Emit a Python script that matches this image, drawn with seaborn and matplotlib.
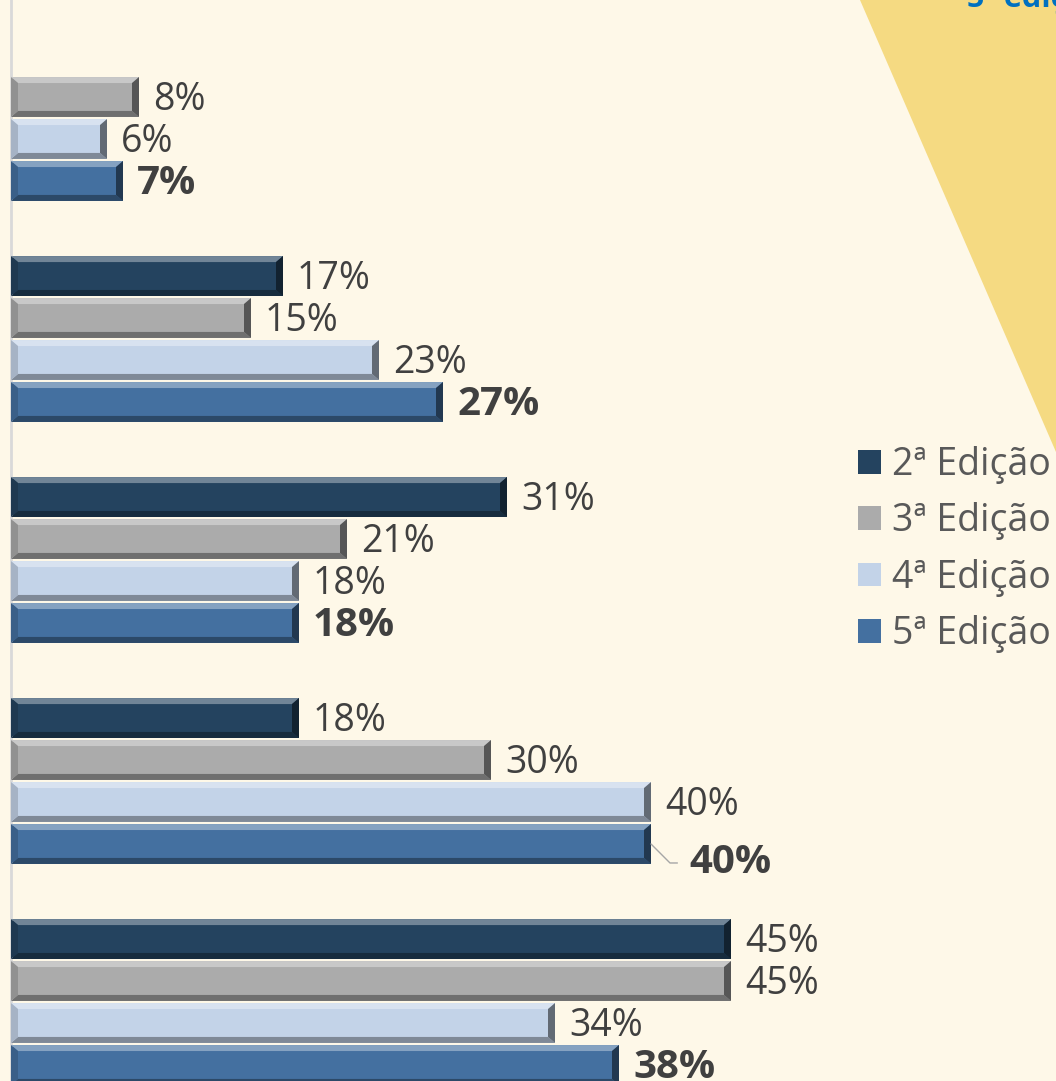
import numpy as np
import pandas as pd
import matplotlib
matplotlib.use("Agg")
import matplotlib.pyplot as plt
from matplotlib.patches import Polygon
from matplotlib.colors import to_rgb
import seaborn as sns

# ---------------- data ----------------
categories = ["Grupo 1", "Grupo 2", "Grupo 3", "Grupo 4", "Grupo 5"]
editions = ["2ª Edição", "3ª Edição", "4ª Edição", "5ª Edição"]
ed2 = [np.nan, 17, 31, 18, 45]
ed3 = [8, 15, 21, 30, 45]
ed4 = [6, 23, 18, 40, 34]
ed5 = [7, 27, 18, 40, 38]
colors = ["#24435F", "#ABABAB", "#C3D3E8", "#4470A0"]

rows = []
for ed, vals in zip(editions, [ed2, ed3, ed4, ed5]):
    for c, v in zip(categories, vals):
        rows.append({"categoria": c, "edicao": ed, "valor": v})
df = pd.DataFrame(rows).dropna()

# ---------------- style ----------------
sns.set_style("white")
plt.rcParams["font.family"] = ["Open Sans", "DejaVu Sans"]

W, H = 1056, 1081
BG = "#FEF8E8"
fig = plt.figure(figsize=(W / 100, H / 100), dpi=100, facecolor=BG)

# yellow decorative wedge at top right
fig.patches.append(Polygon([(860 / W, 1), (1, 1), (1, 1 - 452 / H)], closed=True,
                           transform=fig.transFigure, facecolor="#F5DA82",
                           edgecolor="none", zorder=0))
fig.text(967 / W, 1 - 7 / H, "5ª edição", color="#0070C0", fontweight="bold",
         fontsize=22, ha="left", va="baseline")

ax = fig.add_axes([11 / W, 0, 1 - 11 / W, 1])
ax.set_facecolor("none")

sns.barplot(data=df, x="valor", y="categoria", hue="edicao", order=categories,
            hue_order=editions, palette=colors, orient="h", width=0.76, gap=0.05,
            saturation=1, edgecolor="none", linewidth=0, ax=ax, legend=True)

ax.set_xlim(0, (W - 11) / 16)
ax.set_ylim((H - 118) / 221, -118 / 221)
ax.set_xlabel("")
ax.set_ylabel("")
ax.set_xticks([])
ax.set_yticks([])
for s in ["top", "right", "bottom"]:
    ax.spines[s].set_visible(False)
ax.spines["left"].set_color("#D9D9D9")
ax.spines["left"].set_linewidth(2)

# ---------------- bevel effect derived from the drawn bars ----------------
p0 = ax.transData.transform((0, 0))
p1 = ax.transData.transform((1, 1))
sx = abs(p1[0] - p0[0])
sy = abs(p1[1] - p0[1])
dx = 7 / sx
dy = 6 / sy


def mix(c, other, t):
    c = np.array(to_rgb(c))
    o = np.array(to_rgb(other))
    return tuple(c * (1 - t) + o * t)


for k, cont in enumerate(ax.containers):
    base = colors[k]
    for bar in cont:
        x0 = bar.get_x()
        x1 = x0 + bar.get_width()
        y0 = bar.get_y()
        y1 = y0 + bar.get_height()
        if not np.isfinite(x1) or bar.get_width() <= 0:
            continue
        ax.add_patch(Polygon([(x0, y0), (x1, y0), (x1 - dx, y0 + dy), (x0 + dx, y0 + dy)],
                             facecolor=mix(base, "white", 0.35), edgecolor="none", zorder=3))
        ax.add_patch(Polygon([(x0, y1), (x1, y1), (x1 - dx, y1 - dy), (x0 + dx, y1 - dy)],
                             facecolor=mix(base, "black", 0.35), edgecolor="none", zorder=3))
        ax.add_patch(Polygon([(x1, y0), (x1, y1), (x1 - dx, y1 - dy), (x1 - dx, y0 + dy)],
                             facecolor=mix(base, "black", 0.5), edgecolor="none", zorder=3))
        ax.add_patch(Polygon([(x0, y0), (x0, y1), (x0 + dx, y1 - dy), (x0 + dx, y0 + dy)],
                             facecolor=mix(base, "black", 0.15), edgecolor="none", zorder=3))

# ---------------- value labels ----------------
PX = 0.72  # points per pixel at 100 dpi
for k, cont in enumerate(ax.containers):
    bold = (k == len(editions) - 1)
    for bar in cont:
        w = bar.get_width()
        if not np.isfinite(w) or w <= 0:
            continue
        yc = bar.get_y() + bar.get_height() / 2
        cat_idx = int(round(yc))
        txt = f"{w:.0f}%"
        if bold and cat_idx == 3:
            ax.annotate(txt, xy=(w, yc), xytext=(38 * PX, -19 * PX), textcoords="offset points",
                        ha="left", va="center", fontsize=29, fontweight="bold", color="#404040",
                        arrowprops=dict(arrowstyle="-", color="#A6A6A6", lw=1,
                                        shrinkA=6, shrinkB=0,
                                        connectionstyle="angle,angleA=0,angleB=-45,rad=0"))
        else:
            ax.annotate(txt, xy=(w, yc), xytext=(14 * PX, -3 * PX),
                        textcoords="offset points", ha="left", va="center",
                        fontsize=29 if bold else 27,
                        fontweight="bold" if bold else "normal", color="#404040")

# ---------------- legend ----------------
handles, labels = ax.get_legend_handles_labels()
ax.legend(handles, labels, loc="upper left", bbox_to_anchor=(858 / W, 1 - 446 / H),
          bbox_transform=fig.transFigure, frameon=False, fontsize=27,
          labelcolor="#595959", handlelength=0.6, handleheight=0.6,
          handletextpad=0.3, labelspacing=0.49, borderpad=0, borderaxespad=0)

fig.savefig("out.png", dpi=100, facecolor=BG)
